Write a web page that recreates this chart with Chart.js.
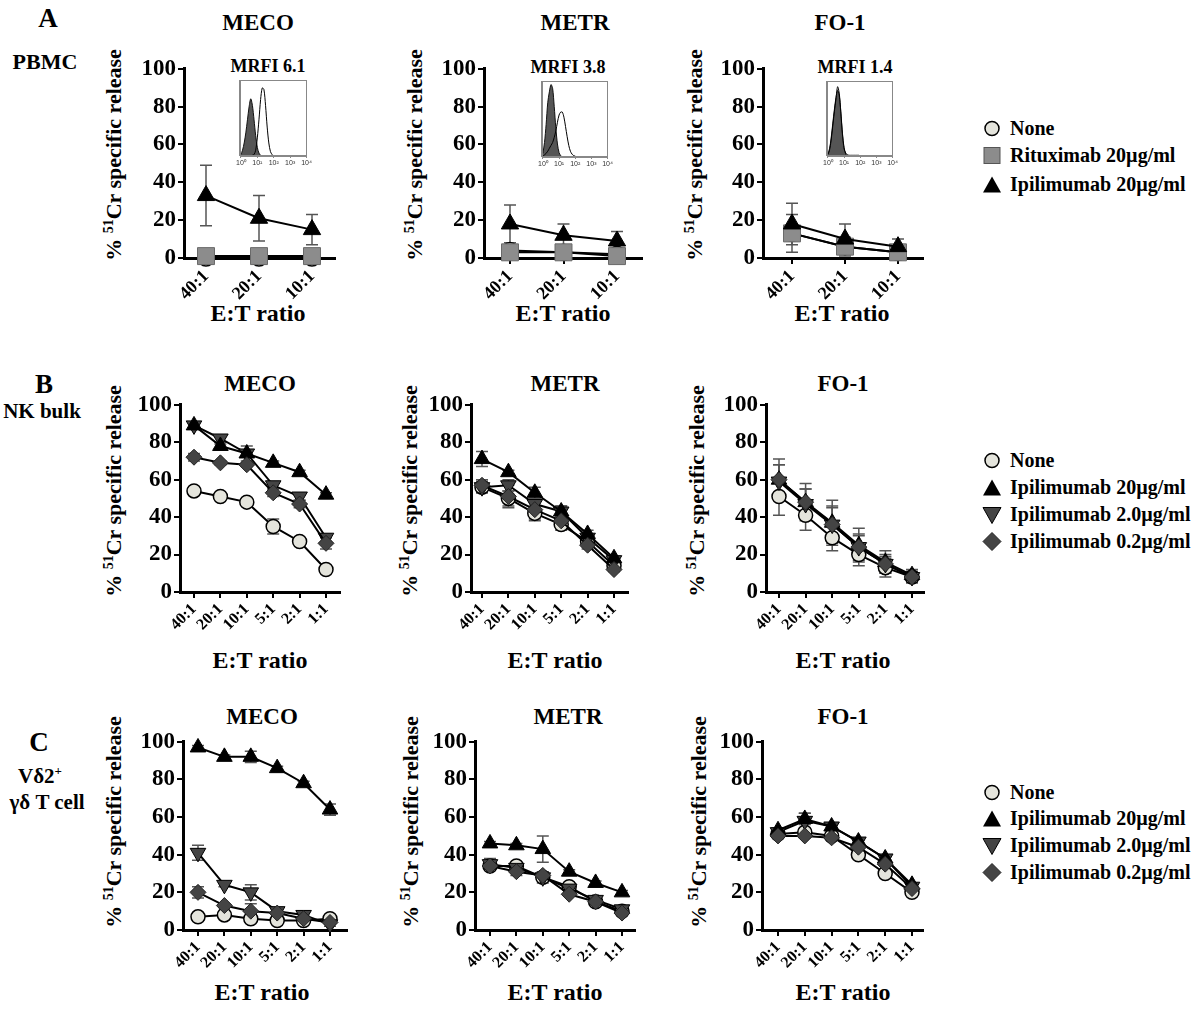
<!DOCTYPE html>
<html>
<head>
<meta charset="utf-8">
<script src="https://cdn.jsdelivr.net/npm/chart.js@4.4.0/dist/chart.umd.min.js"></script>
<style>
  body { margin: 0; width: 1200px; height: 1010px; position: relative; background: #fff; overflow: hidden;
         font-family: "Liberation Serif", "Times New Roman", serif; font-weight: bold; color: #000; }
  .t { position: absolute; white-space: nowrap; transform: translate(-50%, -50%); line-height: 1; }
  .yt { position: absolute; white-space: nowrap; transform: translate(-50%, -50%) rotate(-90deg); font-size: 22px; line-height: 1; }
  .yt sup { font-size: 14px; vertical-align: 8px; }
  canvas { position: absolute; }
  .box { position: absolute; border: 1px solid #888; box-sizing: border-box; }
  .leg { position: absolute; left: 982px; display: flex; align-items: center; font-size: 20px; transform: translateY(-50%); white-space: nowrap; }
  .leg svg { width: 20px; height: 20px; margin-right: 8px; }
</style>
</head>
<body>

<!-- row labels -->
<div class="t" style="left:48px;top:18px;font-size:27px">A</div>
<div class="t" style="left:45px;top:62px;font-size:22px">PBMC</div>
<div class="t" style="left:44px;top:384px;font-size:27px">B</div>
<div class="t" style="left:42px;top:411px;font-size:21px">NK bulk</div>
<div class="t" style="left:39px;top:742px;font-size:27px">C</div>
<div class="t" style="left:40px;top:775px;font-size:21px">Vδ2<sup style="font-size:13px">+</sup></div>
<div class="t" style="left:47px;top:802px;font-size:21px">γδ T cell</div>

<!-- panel titles -->
<div class="t" style="left:258px;top:22px;font-size:23px">MECO</div>
<div class="t" style="left:575px;top:22px;font-size:23px">METR</div>
<div class="t" style="left:840px;top:22px;font-size:23px">FO-1</div>
<div class="t" style="left:260px;top:383px;font-size:23px">MECO</div>
<div class="t" style="left:565px;top:383px;font-size:23px">METR</div>
<div class="t" style="left:843px;top:383px;font-size:23px">FO-1</div>
<div class="t" style="left:262px;top:716px;font-size:23px">MECO</div>
<div class="t" style="left:568px;top:716px;font-size:23px">METR</div>
<div class="t" style="left:843px;top:716px;font-size:23px">FO-1</div>

<!-- MRFI labels -->
<div class="t" style="left:268px;top:66px;font-size:18px">MRFI 6.1</div>
<div class="t" style="left:568px;top:67px;font-size:18px">MRFI 3.8</div>
<div class="t" style="left:855px;top:67px;font-size:18px">MRFI 1.4</div>

<!-- y axis titles -->
<div class="yt" style="left:113px;top:155px">% <sup>51</sup>Cr specific release</div>
<div class="yt" style="left:414px;top:155px">% <sup>51</sup>Cr specific release</div>
<div class="yt" style="left:694px;top:155px">% <sup>51</sup>Cr specific release</div>
<div class="yt" style="left:113px;top:491px">% <sup>51</sup>Cr specific release</div>
<div class="yt" style="left:409px;top:491px">% <sup>51</sup>Cr specific release</div>
<div class="yt" style="left:696px;top:491px">% <sup>51</sup>Cr specific release</div>
<div class="yt" style="left:113px;top:822px">% <sup>51</sup>Cr specific release</div>
<div class="yt" style="left:410px;top:822px">% <sup>51</sup>Cr specific release</div>
<div class="yt" style="left:698px;top:822px">% <sup>51</sup>Cr specific release</div>

<!-- x axis titles -->
<div class="t" style="left:258px;top:313px;font-size:24px">E:T ratio</div>
<div class="t" style="left:563px;top:313px;font-size:24px">E:T ratio</div>
<div class="t" style="left:842px;top:313px;font-size:24px">E:T ratio</div>
<div class="t" style="left:260px;top:660px;font-size:24px">E:T ratio</div>
<div class="t" style="left:555px;top:660px;font-size:24px">E:T ratio</div>
<div class="t" style="left:843px;top:660px;font-size:24px">E:T ratio</div>
<div class="t" style="left:262px;top:992px;font-size:24px">E:T ratio</div>
<div class="t" style="left:555px;top:992px;font-size:24px">E:T ratio</div>
<div class="t" style="left:843px;top:992px;font-size:24px">E:T ratio</div>

<!-- legends -->
<div class="leg" style="top:128px"><svg viewBox="0 0 20 20"><circle cx="10" cy="10" r="7" fill="#e4e4dc" stroke="#000" stroke-width="1.5"/></svg>None</div>
<div class="leg" style="top:155px"><svg viewBox="0 0 20 20"><rect x="2" y="2" width="16" height="16" fill="#8c8c8c" stroke="#555" stroke-width="1"/></svg>Rituximab 20µg/ml</div>
<div class="leg" style="top:184px"><svg viewBox="0 0 20 20"><polygon points="10,2 19,18 1,18" fill="#000"/></svg>Ipilimumab 20µg/ml</div>

<div class="leg" style="top:460px"><svg viewBox="0 0 20 20"><circle cx="10" cy="10" r="7" fill="#e4e4dc" stroke="#000" stroke-width="1.5"/></svg>None</div>
<div class="leg" style="top:487px"><svg viewBox="0 0 20 20"><polygon points="10,2 19,18 1,18" fill="#000"/></svg>Ipilimumab 20µg/ml</div>
<div class="leg" style="top:514px"><svg viewBox="0 0 20 20"><polygon points="1,3 19,3 10,19" fill="#444" stroke="#000" stroke-width="1"/></svg>Ipilimumab 2.0µg/ml</div>
<div class="leg" style="top:541px"><svg viewBox="0 0 20 20"><polygon points="10,1 19,10 10,19 1,10" fill="#444" stroke="#222" stroke-width="1"/></svg>Ipilimumab 0.2µg/ml</div>

<div class="leg" style="top:792px"><svg viewBox="0 0 20 20"><circle cx="10" cy="10" r="7" fill="#e4e4dc" stroke="#000" stroke-width="1.5"/></svg>None</div>
<div class="leg" style="top:818px"><svg viewBox="0 0 20 20"><polygon points="10,2 19,18 1,18" fill="#000"/></svg>Ipilimumab 20µg/ml</div>
<div class="leg" style="top:845px"><svg viewBox="0 0 20 20"><polygon points="1,3 19,3 10,19" fill="#444" stroke="#000" stroke-width="1"/></svg>Ipilimumab 2.0µg/ml</div>
<div class="leg" style="top:872px"><svg viewBox="0 0 20 20"><polygon points="10,1 19,10 10,19 1,10" fill="#444" stroke="#222" stroke-width="1"/></svg>Ipilimumab 0.2µg/ml</div>

<canvas id="aMeco"></canvas><canvas id="aMetr"></canvas><canvas id="aFo1"></canvas>
<canvas id="bMeco"></canvas><canvas id="bMetr"></canvas><canvas id="bFo1"></canvas>
<canvas id="cMeco"></canvas><canvas id="cMetr"></canvas><canvas id="cFo1"></canvas>
<canvas id="insMeco"></canvas><canvas id="insMetr"></canvas><canvas id="insFo1"></canvas>

<script>
// E:T ratios
const ratiosA = ['40:1', '20:1', '10:1'];
const ratiosBC = ['40:1', '20:1', '10:1', '5:1', '2:1', '1:1'];

// A - PBMC
const aMecoNone = [0, 0, 0];
const aMecoRitux = [1, 1, 1];
const aMecoIpi20 = [33, 21, 15];
const aMecoIpi20Err = [16, 12, 8];
const aMetrNone = [4, 3, 2];
const aMetrRitux = [3, 3, 1];
const aMetrRituxErr = [2, 2, 1];
const aMetrIpi20 = [18, 12, 9];
const aMetrIpi20Err = [10, 6, 5];
const aFo1None = [13, 6, 3];
const aFo1Ritux = [13, 6, 3];
const aFo1RituxErr = [10, 5, 4];
const aFo1Ipi20 = [18, 10, 6];
const aFo1Ipi20Err = [11, 8, 4];

// B - NK bulk
const bMecoNone = [54, 51, 48, 35, 27, 12];
const bMecoNoneErr = [1, 1, 1, 4, 1, 1];
const bMecoIpi20 = [89, 78, 74, 69, 64, 52];
const bMecoIpi20Err = [1, 1, 4, 1, 1, 1];
const bMecoIpi2 = [89, 82, 74, 57, 51, 29];
const bMecoIpi2Err = [2, 2, 2, 2, 2, 2];
const bMecoIpi02 = [72, 69, 68, 53, 47, 26];
const bMecoIpi02Err = [2, 1, 1, 2, 2, 3];

const bMetrNone = [56, 50, 42, 36, 27, 14];
const bMetrNoneErr = [3, 4, 4, 3, 2, 1];
const bMetrIpi20 = [71, 64, 53, 43, 31, 18];
const bMetrIpi20Err = [4, 1, 3, 3, 2, 1];
const bMetrIpi2 = [56, 57, 47, 43, 29, 17];
const bMetrIpi2Err = [3, 3, 3, 3, 2, 1];
const bMetrIpi02 = [57, 51, 44, 38, 25, 12];
const bMetrIpi02Err = [3, 6, 5, 3, 2, 1];

const bFo1None = [51, 41, 29, 20, 13, 8];
const bFo1NoneErr = [10, 8, 7, 6, 5, 3];
const bFo1Ipi20 = [60, 48, 37, 25, 16, 9];
const bFo1Ipi20Err = [11, 10, 12, 9, 6, 3];
const bFo1Ipi2 = [59, 47, 36, 24, 15, 8];
const bFo1Ipi2Err = [9, 8, 10, 7, 5, 3];
const bFo1Ipi02 = [60, 48, 36, 24, 15, 8];
const bFo1Ipi02Err = [8, 7, 9, 6, 4, 2];

// C - Vd2+ gd T cell
const cMecoNone = [7, 8, 6, 5, 5, 6];
const cMecoNoneErr = [1, 1, 1, 1, 1, 1];
const cMecoIpi20 = [97, 92, 92, 86, 78, 64];
const cMecoIpi20Err = [1, 1, 3, 1, 1, 3];
const cMecoIpi2 = [41, 24, 20, 10, 8, 3];
const cMecoIpi2Err = [4, 1, 4, 2, 2, 1];
const cMecoIpi02 = [20, 13, 10, 9, 6, 4];
const cMecoIpi02Err = [3, 1, 4, 1, 1, 1];

const cMetrNone = [34, 34, 28, 23, 15, 10];
const cMetrNoneErr = [2, 2, 2, 2, 1, 1];
const cMetrIpi20 = [46, 45, 43, 31, 25, 20];
const cMetrIpi20Err = [1, 1, 7, 1, 1, 1];
const cMetrIpi2 = [35, 33, 28, 22, 16, 11];
const cMetrIpi2Err = [3, 2, 3, 1, 1, 1];
const cMetrIpi02 = [34, 31, 29, 19, 15, 9];
const cMetrIpi02Err = [2, 2, 2, 1, 1, 1];

const cFo1None = [51, 52, 50, 40, 30, 20];
const cFo1NoneErr = [1, 2, 1, 1, 1, 1];
const cFo1Ipi20 = [53, 59, 55, 47, 38, 24];
const cFo1Ipi20Err = [1, 3, 1, 1, 1, 1];
const cFo1Ipi2 = [52, 58, 55, 47, 38, 23];
const cFo1Ipi2Err = [1, 4, 1, 1, 1, 1];
const cFo1Ipi02 = [50, 50, 49, 44, 35, 22];
const cFo1Ipi02Err = [1, 1, 1, 1, 1, 1];

// flow histograms for the MRFI insets (log10 fluorescence, % of max)
const histDecades = [0, 0.1, 0.2, 0.3, 0.4, 0.5, 0.6, 0.7, 0.8, 0.9, 1.0, 1.1, 1.2, 1.3, 1.4, 1.5, 1.6, 1.7, 1.8, 1.9, 2.0, 2.1, 2.2, 2.5, 3.0, 4.0];
const histMecoIso = [2, 8, 18, 32, 50, 68, 79, 70, 50, 28, 12, 4, 1, 0, 0, 0, 0, 0, 0, 0, 0, 0, 0, 0, 0, 0];
const histMecoIpi = [0, 0, 0, 0, 0, 0, 0, 1, 2, 8, 25, 50, 78, 94, 92, 70, 40, 18, 6, 2, 0, 0, 0, 0, 0, 0];
const histMetrIso = [5, 20, 45, 75, 90, 100, 95, 70, 40, 18, 6, 2, 0, 0, 0, 0, 0, 0, 0, 0, 0, 0, 0, 0, 0, 0];
const histMetrIpi = [1, 3, 5, 8, 12, 16, 20, 27, 36, 48, 58, 62, 62, 55, 42, 28, 16, 8, 4, 2, 1, 0, 0, 0, 0, 0];
const histFo1Iso = [3, 10, 25, 45, 65, 82, 92, 85, 60, 30, 10, 3, 0, 0, 0, 0, 0, 0, 0, 0, 0, 0, 0, 0, 0, 0];
const histFo1Ipi = [2, 8, 22, 42, 62, 80, 97, 88, 62, 32, 12, 4, 2, 1, 1, 1, 1, 1, 1, 1, 0, 0, 0, 0, 0, 0];

const FONT = '"Liberation Serif", "Times New Roman", serif';

const styles = {
    none:  { pointStyle: 'circle',   rot: 0,   bg: '#e4e4dc', border: '#000', bw: 1.5 },
    ritux: { pointStyle: 'rect',     rot: 0,   bg: '#8c8c8c', border: '#6a6a6a', bw: 1 },
    ipi20: { pointStyle: 'triangle', rot: 0,   bg: '#000',    border: '#000', bw: 1 },
    ipi2:  { pointStyle: 'triangle', rot: 180, bg: '#444',    border: '#000', bw: 1 },
    ipi02: { pointStyle: 'rectRot',  rot: 0,   bg: '#444',    border: '#222', bw: 1 }
};
// marker radius per row
const radiiA = { none: 8, ritux: 12, ipi20: 10 };
const radiiBC = { none: 7, ipi20: 9, ipi2: 9, ipi02: 8 };

const panels = [
    { id: 'aMeco', labels: ratiosA, radii: radiiA, fs: 18,
      box: { axisX: 184, axisEnd: 335, y100: 67, y0: 258, firstX: 206, step: 53 },
      series: [['ipi20', aMecoIpi20, aMecoIpi20Err], ['ritux', aMecoRitux, null], ['none', aMecoNone, null]] },
    { id: 'aMetr', labels: ratiosA, radii: radiiA, fs: 18,
      box: { axisX: 484, axisEnd: 642, y100: 67, y0: 258, firstX: 510, step: 53.5 },
      series: [['ipi20', aMetrIpi20, aMetrIpi20Err], ['ritux', aMetrRitux, aMetrRituxErr], ['none', aMetrNone, null]] },
    { id: 'aFo1', labels: ratiosA, radii: radiiA, fs: 18,
      box: { axisX: 763, axisEnd: 923, y100: 67, y0: 258, firstX: 792, step: 53 },
      series: [['ipi20', aFo1Ipi20, aFo1Ipi20Err], ['ritux', aFo1Ritux, aFo1RituxErr], ['none', aFo1None, null]] },

    { id: 'bMeco', labels: ratiosBC, radii: radiiBC, fs: 16,
      box: { axisX: 180, axisEnd: 340, y100: 403, y0: 592, firstX: 194, step: 26.4 },
      series: [['ipi02', bMecoIpi02, bMecoIpi02Err], ['ipi20', bMecoIpi20, bMecoIpi20Err], ['ipi2', bMecoIpi2, bMecoIpi2Err], ['none', bMecoNone, bMecoNoneErr]] },
    { id: 'bMetr', labels: ratiosBC, radii: radiiBC, fs: 16,
      box: { axisX: 471, axisEnd: 628, y100: 403, y0: 592, firstX: 482, step: 26.4 },
      series: [['ipi02', bMetrIpi02, bMetrIpi02Err], ['ipi20', bMetrIpi20, bMetrIpi20Err], ['ipi2', bMetrIpi2, bMetrIpi2Err], ['none', bMetrNone, bMetrNoneErr]] },
    { id: 'bFo1', labels: ratiosBC, radii: radiiBC, fs: 16,
      box: { axisX: 766, axisEnd: 924, y100: 403, y0: 592, firstX: 779, step: 26.6 },
      series: [['ipi02', bFo1Ipi02, bFo1Ipi02Err], ['ipi20', bFo1Ipi20, bFo1Ipi20Err], ['ipi2', bFo1Ipi2, bFo1Ipi2Err], ['none', bFo1None, bFo1NoneErr]] },

    { id: 'cMeco', labels: ratiosBC, radii: radiiBC, fs: 16,
      box: { axisX: 183, axisEnd: 347, y100: 740, y0: 930, firstX: 198, step: 26.4 },
      series: [['ipi02', cMecoIpi02, cMecoIpi02Err], ['ipi20', cMecoIpi20, cMecoIpi20Err], ['ipi2', cMecoIpi2, cMecoIpi2Err], ['none', cMecoNone, cMecoNoneErr]] },
    { id: 'cMetr', labels: ratiosBC, radii: radiiBC, fs: 16,
      box: { axisX: 475, axisEnd: 635, y100: 740, y0: 930, firstX: 490, step: 26.4 },
      series: [['ipi02', cMetrIpi02, cMetrIpi02Err], ['ipi20', cMetrIpi20, cMetrIpi20Err], ['ipi2', cMetrIpi2, cMetrIpi2Err], ['none', cMetrNone, cMetrNoneErr]] },
    { id: 'cFo1', labels: ratiosBC, radii: radiiBC, fs: 16,
      box: { axisX: 762, axisEnd: 923, y100: 740, y0: 930, firstX: 778, step: 26.8 },
      series: [['ipi02', cFo1Ipi02, cFo1Ipi02Err], ['ipi20', cFo1Ipi20, cFo1Ipi20Err], ['ipi2', cFo1Ipi2, cFo1Ipi2Err], ['none', cFo1None, cFo1NoneErr]] }
];

// error bars, drawn under the markers
const errorBars = {
    id: 'errorBars',
    beforeDatasetsDraw(chart) {
        const ctx = chart.ctx, xs = chart.scales.x, ys = chart.scales.y;
        ctx.save();
        ctx.strokeStyle = '#555';
        ctx.lineWidth = 1.5;
        chart.data.datasets.forEach(ds => {
            if (!ds.errors) return;
            ds.data.forEach((pt, i) => {
                const e = ds.errors[i];
                if (!e) return;
                const px = xs.getPixelForValue(pt.x);
                const top = ys.getPixelForValue(pt.y + e);
                const bot = ys.getPixelForValue(Math.max(pt.y - e, 0));
                ctx.beginPath();
                ctx.moveTo(px, top); ctx.lineTo(px, bot);
                ctx.moveTo(px - 6, top); ctx.lineTo(px + 6, top);
                ctx.moveTo(px - 6, bot); ctx.lineTo(px + 6, bot);
                ctx.stroke();
            });
        });
        ctx.restore();
    }
};

function makePanel(p) {
    const b = p.box;
    const padL = 56, padB = 62, padT = 14, padR = 14;
    const cv = document.getElementById(p.id);
    cv.width = b.axisEnd - b.axisX + padL + padR;
    cv.height = b.y0 - b.y100 + padT + padB;
    cv.style.left = (b.axisX - padL) + 'px';
    cv.style.top = (b.y100 - padT) + 'px';
    const xMin = -(b.firstX - b.axisX) / b.step;
    const xMax = xMin + (b.axisEnd - b.axisX) / b.step;

    new Chart(cv, {
        type: 'line',
        data: {
            datasets: p.series.map(([key, vals, errs]) => {
                const s = styles[key];
                return {
                    data: vals.map((v, i) => ({ x: i, y: v })),
                    errors: errs,
                    borderColor: '#000',
                    borderWidth: 2,
                    pointStyle: s.pointStyle,
                    pointRotation: s.rot,
                    pointRadius: p.radii[key],
                    pointBackgroundColor: s.bg,
                    pointBorderColor: s.border,
                    pointBorderWidth: s.bw,
                    tension: 0,
                    clip: false
                };
            })
        },
        options: {
            responsive: false,
            animation: false,
            layout: { padding: { top: padT, right: padR, left: 0, bottom: 0 } },
            plugins: { legend: { display: false }, tooltip: { enabled: false } },
            scales: {
                x: {
                    type: 'linear', min: xMin, max: xMax,
                    afterBuildTicks: s => { s.ticks = p.labels.map((_, i) => ({ value: i })); },
                    afterFit: s => { s.height = padB; },
                    grid: { display: true, drawOnChartArea: false, drawTicks: true, tickLength: 6, color: '#000', lineWidth: 2 },
                    border: { display: true, color: '#000', width: 3 },
                    ticks: {
                        callback: v => p.labels[v],
                        minRotation: 45, maxRotation: 45, autoSkip: false, padding: 2,
                        color: '#000', font: { family: FONT, size: p.fs, weight: 'bold' }
                    }
                },
                y: {
                    min: 0, max: 100,
                    afterFit: s => { s.width = padL; },
                    grid: { display: true, drawOnChartArea: false, drawTicks: true, tickLength: 6, color: '#000', lineWidth: 2 },
                    border: { display: true, color: '#000', width: 3 },
                    ticks: { stepSize: 20, padding: 2, color: '#000', font: { family: FONT, size: 23, weight: 'bold' } }
                }
            }
        },
        plugins: [errorBars]
    });
}

panels.forEach(makePanel);

// MRFI histogram insets
const insets = [
    { id: 'insMeco', box: { left: 239, top: 80, w: 68, h: 76 }, iso: histMecoIso, ipi: histMecoIpi },
    { id: 'insMetr', box: { left: 541, top: 81, w: 67, h: 76 }, iso: histMetrIso, ipi: histMetrIpi },
    { id: 'insFo1', box: { left: 826, top: 81, w: 67, h: 75 }, iso: histFo1Iso, ipi: histFo1Ipi }
];
const supDigits = ['⁰', '¹', '²', '³', '⁴'];

function makeInset(ins) {
    const b = ins.box;
    const padL = 4, padB = 12, padT = 2, padR = 6;
    const frame = document.createElement('div');
    frame.className = 'box';
    frame.style.left = b.left + 'px';
    frame.style.top = b.top + 'px';
    frame.style.width = b.w + 'px';
    frame.style.height = b.h + 'px';
    document.body.appendChild(frame);

    const cv = document.getElementById(ins.id);
    cv.width = b.w + padL + padR;
    cv.height = b.h + padT + padB;
    cv.style.left = (b.left - padL) + 'px';
    cv.style.top = (b.top - padT) + 'px';
    new Chart(cv, {
        type: 'line',
        data: {
            datasets: [
                { data: histDecades.map((x, i) => ({ x, y: ins.ipi[i] })), borderColor: '#000', borderWidth: 1,
                  fill: false, pointRadius: 0, tension: 0.3 },
                { data: histDecades.map((x, i) => ({ x, y: ins.iso[i] })), borderColor: '#111', borderWidth: 1,
                  backgroundColor: '#555', fill: 'origin', pointRadius: 0, tension: 0.3 }
            ]
        },
        options: {
            responsive: false,
            animation: false,
            layout: { padding: { top: padT, right: padR, left: 0, bottom: 0 } },
            plugins: { legend: { display: false }, tooltip: { enabled: false } },
            scales: {
                x: {
                    type: 'linear', min: 0, max: 4,
                    afterFit: s => { s.height = padB; },
                    grid: { display: true, drawOnChartArea: false, tickLength: 2, color: '#888' },
                    border: { display: true, color: '#888', width: 1 },
                    ticks: { stepSize: 1, autoSkip: false, maxRotation: 0, padding: 1, color: '#333',
                             callback: v => '10' + supDigits[v], font: { family: '"Liberation Sans", sans-serif', size: 7 } }
                },
                y: {
                    min: 0, max: 105,
                    afterFit: s => { s.width = padL; },
                    grid: { display: false },
                    border: { display: true, color: '#888', width: 1 },
                    ticks: { display: false }
                }
            }
        }
    });
}

insets.forEach(makeInset);
</script>
</body>
</html>
